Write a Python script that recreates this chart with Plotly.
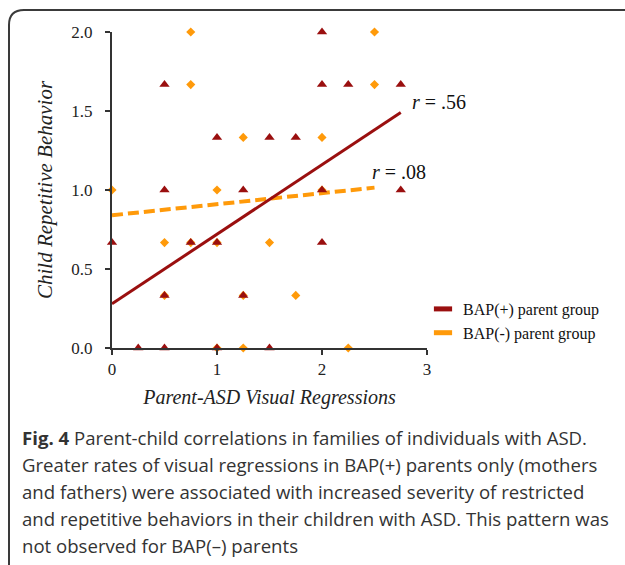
import plotly.graph_objects as go

# ---- data ----
bap_plus_x = [0.5, 1.0, 1.5, 1.75, 0.5, 1.25, 2.0, 2.0, 2.25, 2.75, 2.0, 2.75, 2.0,
              0.0, 0.75, 1.0, 0.5, 1.25, 0.25, 0.5, 1.0, 1.5]
bap_plus_y = [1.667, 1.333, 1.333, 1.333, 1.0, 1.0, 2.0, 1.667, 1.667, 1.667, 1.0, 1.0, 0.667,
              0.667, 0.667, 0.667, 0.333, 0.333, 0.0, 0.0, 0.0, 0.0]
bap_minus_x = [0.75, 2.5, 0.75, 2.5, 1.25, 2.0, 0.0, 1.0, 2.0, 0.5, 1.5, 0.75, 1.0,
               1.75, 0.5, 1.25, 1.25, 2.25, 1.0]
bap_minus_y = [2.0, 2.0, 1.667, 1.667, 1.333, 1.333, 1.0, 1.0, 1.0, 0.667, 0.667, 0.667, 0.667,
               0.333, 0.333, 0.333, 0.0, 0.0, 0.0]
fit_plus_x = [0.0, 2.75]
fit_plus_y = [0.28, 1.49]
fit_minus_x = [0.0, 2.5]
fit_minus_y = [0.84, 1.015]
r_labels = ["<i>r</i> = .56", "<i>r</i> = .08"]
r_pos_x = [2.84, 2.46]
r_pos_y = [1.56, 1.115]
legend_names = ["BAP(+) parent group", "BAP(-) parent group"]
x_ticks = [0, 1, 2, 3]
y_ticks = [0.0, 0.5, 1.0, 1.5, 2.0]
y_tick_text = ["0.0", "0.5", "1.0", "1.5", "2.0"]
caption_lines = [
    "<b>Fig. 4</b> Parent-child correlations in families of individuals with ASD.",
    "Greater rates of visual regressions in BAP(+) parents only (mothers",
    "and fathers) were associated with increased severity of restricted",
    "and repetitive behaviors in their children with ASD. This pattern was",
    "not observed for BAP(\u2013) parents",
]

DARK = "#9a0f0f"
ORANGE = "#ff9a0a"
SERIF = "Liberation Serif, Times New Roman, serif"

W, H = 625, 565
L, R, T, B = 112, 198, 32, 217
pw, ph = W - L - R, H - T - B

def px(x):
    return (x - L) / pw

def py(y):
    return (H - B - y) / ph

fig = go.Figure()

fig.add_trace(go.Scatter(x=fit_minus_x, y=fit_minus_y, mode="lines",
                         line=dict(color=ORANGE, width=4, dash="11px,5px"),
                         showlegend=False, hoverinfo="skip"))
fig.add_trace(go.Scatter(x=fit_plus_x, y=fit_plus_y, mode="lines",
                         line=dict(color=DARK, width=3),
                         showlegend=False, hoverinfo="skip"))
fig.add_trace(go.Scatter(x=bap_minus_x, y=bap_minus_y, mode="markers",
                         marker=dict(symbol="diamond", size=7, color=ORANGE),
                         showlegend=False, cliponaxis=False))
fig.add_trace(go.Scatter(x=bap_plus_x, y=bap_plus_y, mode="markers",
                         marker=dict(symbol="triangle-up", size=9, color=DARK),
                         showlegend=False, cliponaxis=False))

for name, col in zip(legend_names, [DARK, ORANGE]):
    fig.add_trace(go.Scatter(x=[None], y=[None], mode="markers", name=name,
                             marker=dict(symbol="line-ew", size=13,
                                         line=dict(color=col, width=6))))

for t, xx, yy in zip(r_labels, r_pos_x, r_pos_y):
    fig.add_annotation(x=xx, y=yy, text=t, showarrow=False, xanchor="left",
                       yanchor="middle", font=dict(family=SERIF, size=20, color="#111"))

for i, line in enumerate(caption_lines):
    fig.add_annotation(x=px(20), y=py(437 + 27 * i), xref="paper", yref="paper",
                       text=line, showarrow=False, xanchor="left", yanchor="middle",
                       font=dict(family="Open Sans, sans-serif", size=18.6, color="#333"))

# frame
x0, y0 = px(9), py(10)
x1, y1 = px(640), py(580)
rx, ry = 15 / pw, 15 / ph
path = (f"M {x0} {y1} L {x0} {y0 - ry} Q {x0} {y0} {x0 + rx} {y0} L {x1} {y0}")
fig.add_shape(type="path", path=path, xref="paper", yref="paper",
              line=dict(color="#3a3a3a", width=2))

axis_common = dict(showgrid=False, zeroline=False, showline=True, linecolor="#333",
                   linewidth=2, ticks="outside", ticklen=5, tickwidth=2, tickcolor="#333",
                   tickfont=dict(family=SERIF, size=17, color="#222"))

fig.update_xaxes(range=[0, 3], tickvals=x_ticks, **axis_common, ticklabelstandoff=0,
                 title=dict(text="<i>Parent-ASD Visual Regressions</i>",
                            font=dict(family=SERIF, size=20, color="#222"), standoff=12))
fig.update_yaxes(range=[0, 2], tickvals=y_ticks, ticktext=y_tick_text, **axis_common,
                 ticklabelstandoff=9,
                 title=dict(text="<i>Child Repetitive Behavior</i>",
                            font=dict(family=SERIF, size=21, color="#222"), standoff=13))

fig.update_layout(
    width=W, height=H,
    margin=dict(l=L, r=R, t=T, b=B),
    plot_bgcolor="white", paper_bgcolor="white",
    legend=dict(x=px(423), y=py(292), xanchor="left", yanchor="top",
                font=dict(family=SERIF, size=16, color="#111"),
                itemwidth=30, tracegroupgap=0, bgcolor="rgba(0,0,0,0)"),
)

fig.write_html("out.html")
